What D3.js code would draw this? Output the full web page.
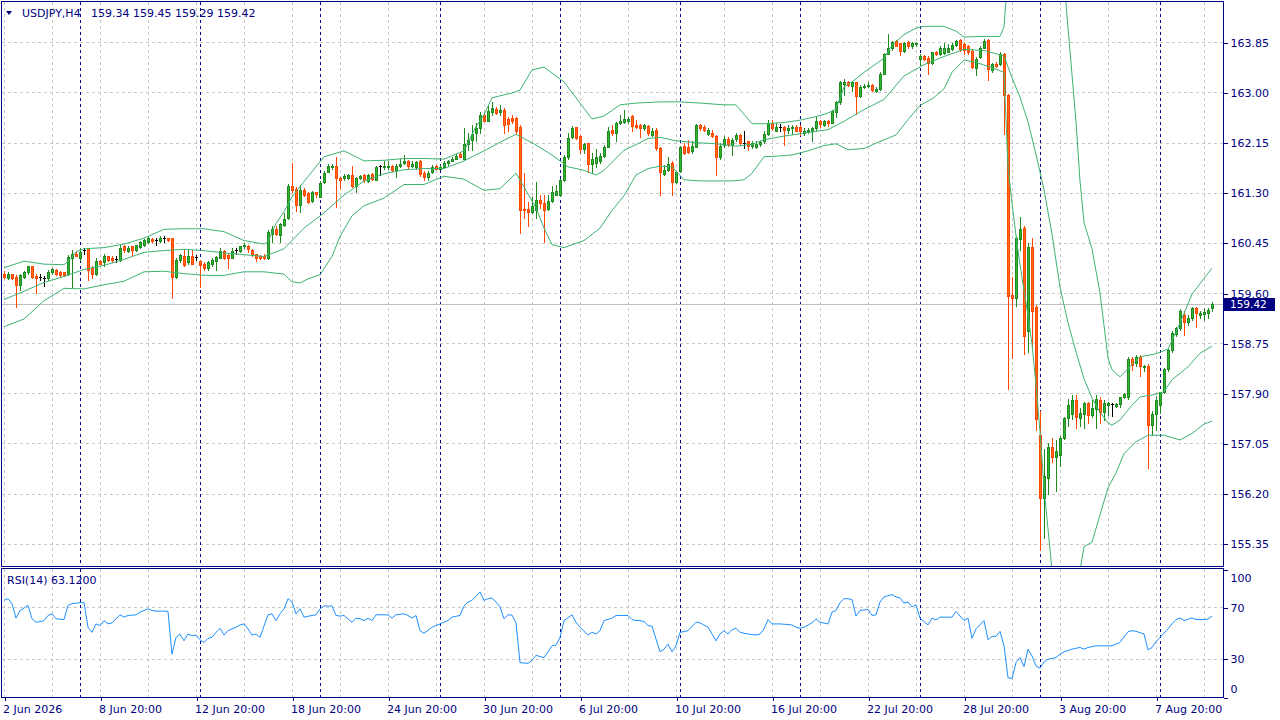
<!DOCTYPE html>
<html lang="en">
<head>
<meta charset="utf-8">
<title>USDJPY,H4</title>
<script src="https://cdn.jsdelivr.net/npm/d3@7"></script>
<style>
  html, body { margin: 0; padding: 0; background: #ffffff; overflow: hidden; }
  #chart svg { display: block; }
</style>
</head>
<body>
<div id="chart"></div>
<script>

var symbol = 'USDJPY,H4';
var rsiName = 'RSI(14)';

// H4 bars, oldest first, first bar is Tue 2 Jun 2026 20:00
var opens = [
  159.93,159.86,159.92,159.87,159.74,159.88,159.96,160.05,159.89,159.87,
  159.85,159.85,159.96,159.99,159.96,159.95,159.92,160.19,160.27,160.19,
  160.33,160.35,160.02,159.92,160.14,160.13,160.22,160.20,160.18,160.16,
  160.39,160.31,160.39,160.33,160.38,160.41,160.47,160.51,160.50,160.48,
  160.53,160.53,160.53,159.88,160.16,160.23,160.13,160.23,160.21,160.14,
  160.09,160.03,160.09,160.14,160.20,160.31,160.24,160.20,160.33,160.31,
  160.39,160.40,160.33,160.26,160.22,160.23,160.19,160.60,160.69,160.58,
  160.75,160.87,161.42,161.36,161.09,161.35,161.30,161.16,161.31,161.23,
  161.48,161.66,161.73,161.76,161.55,161.55,161.55,161.60,161.42,161.55,
  161.60,161.50,161.61,161.52,161.75,161.74,161.73,161.76,161.69,161.76,
  161.80,161.84,161.76,161.73,161.84,161.63,161.57,161.65,161.75,161.71,
  161.74,161.80,161.84,161.88,161.95,161.88,162.12,162.19,162.32,162.39,
  162.62,162.52,162.67,162.72,162.67,162.70,162.55,162.56,162.56,162.42,
  161.02,161.02,160.97,161.01,161.18,161.12,161.02,161.16,161.27,161.26,
  161.52,161.91,162.24,162.41,162.26,162.04,162.14,161.78,161.81,161.83,
  161.92,162.08,162.36,162.32,162.49,162.50,162.52,162.60,162.45,162.44,
  162.39,162.43,162.28,162.36,162.05,161.62,161.69,161.81,161.49,161.67,
  162.09,162.07,162.00,162.08,162.45,162.42,162.30,162.31,162.26,161.90,
  162.11,162.21,162.11,162.21,162.28,162.14,162.17,162.09,162.08,162.13,
  162.17,162.30,162.49,162.35,162.42,162.41,162.37,162.39,162.42,162.41,
  162.31,162.34,162.35,162.39,162.52,162.45,162.52,162.49,162.67,162.84,
  163.14,163.18,163.11,163.17,162.94,163.10,163.11,163.13,163.03,163.06,
  163.32,163.66,163.75,163.87,163.83,163.71,163.85,163.78,163.82,163.56,
  163.62,163.58,163.50,163.68,163.65,163.67,163.69,163.73,163.80,163.89,
  163.82,163.79,163.71,163.41,163.60,163.76,163.89,163.38,163.49,163.49,
  163.65,162.95,159.57,159.52,160.52,160.70,158.95,160.38,159.36,157.20,
  156.12,156.47,156.99,156.82,156.86,157.15,157.48,157.55,157.79,157.48,
  157.55,157.73,157.53,157.63,157.79,157.59,157.70,157.72,157.69,157.72,
  157.83,157.84,158.49,158.42,158.51,158.34,158.36,157.36,157.55,157.70,
  157.93,158.31,158.63,158.91,159.00,159.23,159.11,159.17,159.34,159.23,
  159.24,159.27,159.34
];

var highs = [
  159.97,159.95,159.93,159.91,159.92,159.98,160.06,160.06,159.92,159.92,
  159.89,159.99,160.03,160.01,159.97,159.96,160.24,160.33,160.30,160.36,
  160.37,160.37,160.05,160.19,160.16,160.27,160.23,160.22,160.22,160.42,
  160.41,160.39,160.40,160.42,160.48,160.52,160.55,160.53,160.54,160.57,
  160.57,160.54,160.54,160.19,160.27,160.33,160.33,160.33,160.24,160.16,
  160.12,160.14,160.19,160.23,160.37,160.33,160.27,160.36,160.37,160.40,
  160.44,160.42,160.35,160.27,160.24,160.26,160.67,160.73,160.73,160.79,
  160.95,161.44,161.80,161.39,161.43,161.38,161.32,161.33,161.32,161.50,
  161.67,161.78,161.78,161.91,161.57,161.61,161.62,161.76,161.56,161.60,
  161.61,161.62,161.63,161.76,161.77,161.83,161.83,161.77,161.78,161.87,
  161.94,161.86,161.83,161.84,161.86,161.67,161.67,161.77,161.77,161.77,
  161.83,161.86,161.91,161.95,161.99,162.40,162.31,162.45,162.48,162.67,
  162.65,162.79,162.83,162.76,162.79,162.73,162.59,162.61,162.59,162.44,
  161.63,161.15,161.23,161.49,161.26,161.26,161.27,161.42,161.43,161.54,
  161.94,162.31,162.43,162.42,162.28,162.15,162.15,161.97,162.04,161.97,
  162.11,162.42,162.45,162.50,162.62,162.70,162.59,162.62,162.54,162.46,
  162.46,162.45,162.39,162.39,162.08,161.77,161.90,161.83,161.67,162.09,
  162.15,162.19,162.18,162.47,162.47,162.45,162.39,162.37,162.28,162.14,
  162.26,162.24,162.22,162.32,162.30,162.34,162.18,162.17,162.17,162.18,
  162.34,162.54,162.53,162.48,162.47,162.43,162.45,162.45,162.45,162.45,
  162.39,162.39,162.42,162.59,162.54,162.54,162.54,162.71,162.86,163.20,
  163.22,163.20,163.19,163.18,163.13,163.15,163.18,163.14,163.10,163.34,
  163.67,163.99,163.88,163.89,163.84,163.86,163.88,163.86,163.86,163.66,
  163.64,163.61,163.69,163.70,163.78,163.83,163.82,163.83,163.89,163.90,
  163.84,163.81,163.73,163.60,163.79,163.90,163.90,163.50,163.52,163.69,
  163.67,162.98,159.87,160.57,160.89,160.74,160.45,160.54,159.40,157.60,
  156.95,157.05,157.15,157.11,157.17,157.50,157.80,157.87,157.87,157.65,
  157.76,157.76,157.79,157.87,157.84,157.79,157.76,157.74,157.74,157.84,
  157.91,158.52,158.52,158.55,158.55,158.38,158.40,157.60,157.86,157.93,
  158.33,158.65,158.95,159.02,159.33,159.29,159.23,159.37,159.37,159.30,
  159.34,159.34,159.45
];

var lows = [
  159.85,159.84,159.84,159.37,159.65,159.85,159.93,159.85,159.60,159.82,
  159.72,159.82,159.93,159.91,159.89,159.89,159.91,159.71,160.22,160.16,
  160.27,159.82,159.85,159.91,160.09,160.05,160.14,160.13,160.13,160.14,
  160.30,160.30,160.22,160.31,160.36,160.40,160.44,160.47,160.41,160.47,
  160.47,160.48,159.51,159.86,160.13,160.05,160.10,160.09,160.16,159.71,
  159.99,159.99,160.06,159.99,160.19,160.18,160.02,160.19,160.27,160.30,
  160.36,160.30,160.23,160.14,160.18,160.17,160.18,160.47,160.58,160.46,
  160.73,160.86,161.32,160.99,160.97,161.25,161.12,161.15,161.23,161.22,
  161.46,161.65,161.71,161.06,161.38,161.52,161.53,161.40,161.32,161.53,
  161.48,161.49,161.52,161.51,161.60,161.71,161.71,161.67,161.56,161.74,
  161.78,161.70,161.74,161.71,161.59,161.52,161.52,161.63,161.70,161.70,
  161.73,161.77,161.83,161.87,161.92,161.87,162.03,162.03,162.17,162.31,
  162.51,162.51,162.62,162.63,162.62,162.31,162.34,162.48,162.31,160.61,
  160.87,160.73,160.95,160.87,161.04,160.47,161.01,161.15,161.26,161.25,
  161.50,161.88,162.22,162.21,161.98,161.98,161.66,161.64,161.74,161.80,
  161.90,162.07,162.28,162.17,162.47,162.48,162.49,162.34,162.39,162.24,
  162.37,162.28,162.26,162.02,161.26,161.60,161.67,161.26,161.47,161.66,
  161.96,161.97,161.98,162.07,162.36,162.35,162.28,162.24,161.60,161.88,
  162.08,162.09,161.94,162.17,162.11,162.05,162.02,162.05,162.05,162.09,
  162.15,162.28,162.37,162.34,162.34,162.11,162.31,162.30,162.34,162.28,
  162.28,162.31,162.18,162.37,162.42,162.43,162.43,162.48,162.59,162.80,
  162.96,163.11,163.03,162.64,162.93,163.08,163.10,163.03,163.00,163.04,
  163.31,163.65,163.72,163.78,163.63,163.69,163.76,163.76,163.79,163.47,
  163.55,163.32,163.49,163.64,163.64,163.66,163.68,163.72,163.79,163.71,
  163.66,163.65,163.41,163.30,163.58,163.75,163.21,163.35,163.43,163.46,
  162.29,157.98,158.50,159.38,160.33,158.56,158.60,158.70,157.28,155.24,
  155.45,156.20,156.73,156.25,156.67,157.12,157.34,157.46,157.31,157.34,
  157.31,157.39,157.50,157.31,157.39,157.45,157.53,157.52,157.67,157.67,
  157.82,157.80,158.30,158.36,158.19,158.28,156.63,157.19,157.28,157.56,
  157.90,158.28,158.60,158.87,158.98,158.89,159.06,159.14,159.03,159.17,
  159.14,159.17,159.29
];

var closes = [
  159.87,159.92,159.86,159.74,159.91,159.96,160.05,159.87,159.85,159.87,
  159.85,159.96,160.01,159.92,159.91,159.91,160.21,160.27,160.23,160.30,
  160.33,159.99,159.92,160.14,160.10,160.23,160.16,160.16,160.18,160.37,
  160.33,160.37,160.33,160.41,160.46,160.50,160.54,160.48,160.50,160.54,
  160.53,160.50,159.88,160.16,160.24,160.08,160.23,160.10,160.21,160.08,
  160.02,160.12,160.16,160.21,160.31,160.19,160.19,160.31,160.33,160.39,
  160.41,160.35,160.26,160.19,160.19,160.19,160.63,160.69,160.60,160.77,
  160.86,161.42,161.35,161.09,161.35,161.26,161.15,161.31,161.28,161.47,
  161.64,161.75,161.76,161.55,161.52,161.59,161.60,161.42,161.55,161.58,
  161.51,161.60,161.53,161.73,161.75,161.75,161.75,161.69,161.75,161.79,
  161.84,161.75,161.79,161.82,161.61,161.57,161.64,161.74,161.71,161.74,
  161.81,161.83,161.88,161.92,161.91,162.12,162.19,162.29,162.39,162.62,
  162.52,162.69,162.73,162.65,162.70,162.44,162.46,162.52,162.34,161.01,
  161.00,160.97,161.08,161.17,161.12,161.01,161.16,161.32,161.33,161.51,
  161.91,162.23,162.40,162.22,162.04,162.13,161.78,161.88,161.91,161.93,
  162.07,162.35,162.31,162.48,162.52,162.55,162.55,162.43,162.41,162.40,
  162.44,162.31,162.34,162.05,161.66,161.69,161.78,161.49,161.65,162.07,
  161.98,161.99,162.10,162.44,162.39,162.37,162.36,162.27,161.90,162.10,
  162.21,162.12,162.19,162.28,162.14,162.14,162.09,162.14,162.13,162.16,
  162.30,162.47,162.39,162.41,162.42,162.37,162.39,162.41,162.35,162.34,
  162.35,162.36,162.40,162.51,162.46,162.52,162.48,162.68,162.84,163.17,
  163.18,163.13,163.17,162.94,163.10,163.11,163.13,163.04,163.06,163.32,
  163.66,163.75,163.86,163.79,163.71,163.83,163.79,163.83,163.83,163.62,
  163.56,163.50,163.68,163.65,163.75,163.75,163.76,163.81,163.88,163.73,
  163.72,163.69,163.43,163.57,163.76,163.88,163.39,163.48,163.45,163.66,
  162.96,159.55,159.52,160.54,160.69,158.88,160.38,159.30,157.46,156.12,
  156.50,156.99,156.82,156.93,157.15,157.48,157.70,157.79,157.50,157.56,
  157.73,157.53,157.65,157.80,157.59,157.74,157.73,157.72,157.72,157.83,
  157.89,158.49,158.38,158.51,158.36,158.36,157.36,157.55,157.79,157.93,
  158.31,158.63,158.93,159.00,159.30,159.11,159.17,159.34,159.26,159.27,
  159.28,159.32,159.42
];

// Bollinger bands: [bar, price]
var bbUpper = [
  [0,160.03],[5,160.14],[10,160.09],[15,160.08],[17,160.20],[18,160.30],[20,160.35],[25,160.37],
  [30,160.43],[35,160.53],[40,160.68],[45,160.69],[50,160.69],[55,160.64],[60,160.49],[65,160.43],
  [66,160.47],[68,160.78],[70,160.98],[72,161.23],[75,161.49],[80,161.91],[85,162.01],[90,161.84],
  [95,161.85],[100,161.88],[105,161.88],[110,161.87],[115,162.01],[118,162.42],[120,162.62],[122,162.91],
  [127,162.99],[129,163.04],[132,163.38],[135,163.43],[140,163.18],[145,162.73],[147,162.55],[150,162.60],
  [154,162.79],[158,162.82],[164,162.84],[169,162.84],[174,162.82],[180,162.79],[183,162.79],[187,162.47],
  [190,162.47],[195,162.49],[199,162.53],[203,162.59],[206,162.65],[208,162.72],[210,163.09],[212,163.18],
  [215,163.34],[220,163.58],[222,163.80],[225,163.98],[228,164.09],[230,164.12],[235,164.12],[238,164.04],
  [240,163.94],[245,163.95],[249,163.95],[250,164.11],[251,165.00],[253,165.90],[256,166.50],[259,166.90],
  [262,166.60],[264,165.60],[265,164.90],[266,164.10],[267,163.30],[268,162.50],[269,161.50],[270,160.80],
  [272,160.35],[274,159.60],[276,158.50],[277,158.30],[279,158.18],[281,158.32],[284,158.52],[288,158.57],
  [291,158.65],[294,159.09],[297,159.58],[300,159.85],[302,160.02]
];

var bbMiddle = [
  [0,159.49],[5,159.63],[10,159.78],[15,159.88],[20,160.00],[25,160.07],[30,160.17],[35,160.29],
  [40,160.32],[45,160.34],[50,160.32],[55,160.28],[60,160.25],[65,160.22],[70,160.35],[75,160.70],
  [80,160.96],[85,161.26],[90,161.50],[95,161.62],[100,161.69],[105,161.71],[110,161.71],[115,161.84],
  [120,162.01],[125,162.19],[128,162.29],[133,162.11],[137,161.94],[141,161.74],[145,161.68],[148,161.60],
  [150,161.68],[155,162.02],[159,162.15],[161,162.22],[164,162.24],[168,162.18],[173,162.15],[178,162.13],
  [183,162.09],[187,162.12],[190,162.20],[195,162.26],[199,162.30],[203,162.34],[206,162.37],[210,162.51],
  [215,162.71],[220,162.88],[225,163.28],[230,163.47],[235,163.61],[240,163.73],[245,163.71],[250,163.62],
  [252,163.25],[254,162.92],[256,162.50],[258,161.95],[260,161.35],[262,160.60],[264,159.70],[265,159.40],
  [266,159.10],[268,158.60],[270,158.15],[272,157.82],[274,157.58],[276,157.40],[277,157.36],[279,157.45],
  [282,157.70],[284,157.84],[287,157.87],[290,157.93],[292,158.13],[296,158.35],[299,158.58],[302,158.70]
];

var bbLower = [
  [0,159.03],[5,159.16],[10,159.47],[15,159.68],[20,159.67],[25,159.74],[30,159.80],[35,159.96],
  [40,159.97],[45,159.93],[50,159.90],[55,159.90],[60,159.96],[65,159.96],[70,159.92],[72,159.79],
  [74,159.77],[76,159.84],[79,159.91],[82,160.22],[84,160.56],[87,160.91],[90,161.08],[95,161.21],
  [100,161.44],[105,161.44],[110,161.58],[115,161.53],[120,161.34],[124,161.37],[128,161.63],[130,161.40],
  [133,161.04],[135,160.70],[137,160.42],[140,160.37],[145,160.49],[149,160.70],[152,161.00],[155,161.25],
  [158,161.60],[161,161.71],[164,161.75],[167,161.74],[170,161.52],[174,161.50],[182,161.50],[185,161.52],
  [187,161.63],[190,161.91],[193,161.92],[197,161.94],[201,162.01],[205,162.10],[208,162.13],[211,162.03],
  [215,162.05],[219,162.17],[223,162.28],[226,162.54],[229,162.78],[232,162.89],[235,163.06],[237,163.34],
  [240,163.55],[243,163.51],[247,163.42],[250,163.34],[251,161.74],[252,161.12],[253,160.57],[254,160.08],
  [255,159.65],[256,159.22],[257,158.73],[258,158.05],[259,157.25],[260,156.30],[261,155.60],[262,154.90],
  [264,154.00],[266,153.70],[268,154.30],[269,154.90],[270,155.30],[272,155.38],[274,155.84],[276,156.30],
  [278,156.55],[280,156.88],[283,157.08],[286,157.19],[290,157.19],[294,157.11],[297,157.22],[300,157.38],
  [302,157.43]
];

// RSI(14): [bar, value]
var rsiValues = [
  [0,75.5],[1,76.8],[2,72.9],[3,61.6],[4,67.6],[5,69.5],[6,71.6],[7,61.1],[8,58.4],[9,58.9],
  [10,59.7],[11,63.7],[12,65.0],[13,61.1],[15,60.5],[16,71.6],[17,72.9],[19,73.7],[20,73.7],[21,54.5],
  [22,50.5],[23,57.1],[24,55.8],[25,59.7],[26,57.1],[27,57.9],[29,64.2],[30,62.4],[31,63.7],[33,64.2],
  [34,66.3],[36,68.9],[37,67.6],[38,67.1],[40,67.1],[41,66.8],[42,33.4],[43,46.6],[44,49.2],[45,43.9],
  [46,49.2],[47,47.9],[48,48.4],[49,44.7],[50,42.6],[51,45.8],[52,46.6],[53,50.5],[54,53.7],[55,48.4],
  [56,51.8],[58,54.5],[59,56.3],[60,57.1],[61,53.2],[62,48.4],[63,49.2],[64,46.6],[66,64.2],[67,65.0],
  [68,59.7],[69,65.0],[70,68.9],[71,76.8],[72,74.2],[73,65.0],[74,68.9],[75,62.4],[77,63.7],[78,64.2],
  [79,68.9],[80,71.1],[82,71.1],[83,63.7],[84,63.2],[85,63.7],[87,58.4],[88,61.6],[89,61.1],[90,59.7],
  [91,61.6],[92,59.7],[93,64.2],[95,64.2],[96,64.2],[97,61.6],[98,64.2],[100,65.0],[101,63.7],[102,61.6],
  [103,63.7],[104,51.8],[105,49.7],[107,54.5],[108,55.8],[109,57.1],[111,59.7],[112,62.4],[114,63.7],[115,71.1],
  [116,74.2],[117,75.5],[118,78.7],[119,82.1],[120,75.5],[121,76.8],[122,77.4],[123,74.2],[124,70.3],[125,61.1],
  [126,64.2],[127,64.0],[128,58.0],[129,26.8],[131,26.3],[132,28.7],[133,32.6],[134,31.6],[135,30.8],[137,40.0],
  [138,40.5],[139,46.6],[140,59.7],[142,64.2],[143,58.4],[144,54.5],[146,48.4],[147,50.5],[148,49.2],[149,51.8],
  [150,59.7],[152,61.6],[153,63.7],[156,63.7],[157,60.5],[158,59.7],[159,59.7],[160,58.9],[161,55.8],[162,55.3],
  [164,35.3],[165,37.4],[166,41.3],[167,35.3],[168,40.0],[169,50.5],[170,51.1],[171,51.8],[173,58.4],[174,57.9],
  [176,54.5],[178,43.9],[179,49.2],[180,51.8],[181,49.2],[182,52.6],[183,53.7],[184,50.5],[186,49.2],[188,48.4],
  [189,49.2],[190,53.2],[191,60.5],[192,57.1],[194,57.1],[197,56.3],[198,54.5],[199,53.7],[200,54.5],[202,57.9],
  [203,61.1],[204,58.4],[206,57.1],[207,66.3],[208,67.6],[209,73.7],[210,76.8],[211,76.8],[212,76.1],[213,63.2],
  [214,67.6],[216,68.4],[217,63.7],[218,64.2],[219,74.2],[220,78.2],[222,80.0],[223,78.2],[224,77.4],[225,73.4],
  [226,74.2],[227,70.3],[228,72.1],[229,61.6],[230,58.9],[231,56.3],[232,61.6],[233,60.3],[234,62.4],[237,62.4],
  [238,66.8],[240,59.7],[241,61.6],[242,45.8],[243,53.2],[245,59.7],[246,44.7],[247,47.4],[248,47.4],[249,51.3],
  [250,40.0],[251,15.0],[252,14.5],[253,26.8],[254,30.8],[255,23.7],[256,37.4],[257,32.1],[258,24.2],[259,22.5],
  [260,27.4],[261,29.5],[263,30.8],[264,33.4],[265,35.3],[267,37.4],[269,38.7],[270,37.4],[271,38.7],[273,40.0],
  [274,40.0],[277,40.0],[279,42.6],[281,51.1],[282,51.8],[283,51.3],[285,49.2],[286,36.8],[287,38.7],[288,43.2],
  [289,46.6],[291,53.2],[292,57.1],[293,60.5],[294,61.8],[295,59.7],[297,61.8],[298,60.5],[300,60.5],[301,61.0],
  [302,63.12]
];

var priceTicks = [155.35, 156.20, 157.05, 157.90, 158.75, 159.60, 160.45, 161.30, 162.15, 163.00, 163.85];
var rsiTicks = [0, 30, 70, 100];
var rsiLevels = [30, 70];
var timeTickBars = [0, 24, 48, 72, 96, 120, 144, 168, 192, 216, 240, 264, 288];
var timeTickLabels = ['2 Jun 2026', '8 Jun 20:00', '12 Jun 20:00', '18 Jun 20:00', '24 Jun 20:00',
  '30 Jun 20:00', '6 Jul 20:00', '10 Jul 20:00', '16 Jul 20:00', '22 Jul 20:00', '28 Jul 20:00',
  '3 Aug 20:00', '7 Aug 20:00'];
var weekStartBars = [19, 49, 79, 109, 139, 169, 199, 229, 259, 289];

var settings = {
  selector: '#chart',
  width: 1280,
  height: 720,
  left: 2,
  right: 1223,
  firstBar: 4,
  barStep: 4,
  gridBars: 12,
  main: { top: 2, bottom: 566, tickTop: 42.3, tickBottom: 543.8 },
  sub: { top: 569, bottom: 697 },
  font: '"DejaVu Sans", Verdana, sans-serif',
  fontSize: 11,
  colors: {
    frame: '#000080',
    text: '#000080',
    grid: '#c8c8c8',
    priceLine: '#c0c0c0',
    bullStroke: '#1f8a1f',
    bullFill: '#33b333',
    bearStroke: '#ff4500',
    bearFill: '#ff6a14',
    doji: '#000000',
    bands: '#3cb371',
    rsi: '#1e90ff'
  }
};

var ctrl = { chart: {} };

function translate(x, y) {
  return 'translate(' + x + ',' + y + ')';
}

function crisp(v) {
  return Math.round(v) + 0.5;
}

function init(s, c) {

  c.svg = d3.select(s.selector).append('svg')
    .attr('width', s.width)
    .attr('height', s.height)
    .attr('font-family', s.font)
    .attr('font-size', s.fontSize);

  c.svg.append('rect')
    .attr('width', s.width)
    .attr('height', s.height)
    .attr('fill', '#ffffff');

  defineScales(s);
  defineClips(s, c);
  grid(s, c);
  candles(s, c);
  bands(s, c);
  rsi(s, c);
  frames(s, c);
  axis(s, c);
  labels(s, c);

}

function defineScales(s) {

  s.scales = {};
  s.scales.x = d3.scaleLinear()
    .domain([0, closes.length - 1])
    .range([s.firstBar, s.firstBar + s.barStep * (closes.length - 1)]);
  s.scales.price = d3.scaleLinear()
    .domain([priceTicks[0], priceTicks[priceTicks.length - 1]])
    .range([s.main.tickBottom, s.main.tickTop]);
  s.scales.rsi = d3.scaleLinear()
    .domain([0, 100])
    .range([s.sub.bottom, s.sub.top]);

  return s;

}

function defineClips(s, c) {

  var defs = c.svg.append('defs');

  [['clip-main', s.main], ['clip-sub', s.sub]].forEach(function(p) {
    defs.append('clipPath').attr('id', p[0])
      .append('rect')
      .attr('x', s.left)
      .attr('y', p[1].top)
      .attr('width', s.right - s.left)
      .attr('height', p[1].bottom - p[1].top);
  });

}

function grid(s, c) {

  var x = s.scales.x;
  var bars = d3.range(0, closes.length, s.gridBars);

  [s.main, s.sub].forEach(function(panel) {

    var g = c.svg.append('g')
      .attr('class', 'grid')
      .attr('shape-rendering', 'crispEdges');

    g.selectAll('line.v')
      .data(bars)
      .enter().append('line')
      .attr('class', 'v')
      .attr('x1', function(d) { return crisp(x(d)); })
      .attr('x2', function(d) { return crisp(x(d)); })
      .attr('y1', panel.top)
      .attr('y2', panel.bottom)
      .attr('stroke', s.colors.grid)
      .attr('stroke-dasharray', '3,3');

    var levels = panel === s.main ? priceTicks : rsiLevels;
    var y = panel === s.main ? s.scales.price : s.scales.rsi;

    g.selectAll('line.h')
      .data(levels)
      .enter().append('line')
      .attr('class', 'h')
      .attr('x1', s.left)
      .attr('x2', s.right)
      .attr('y1', function(d) { return crisp(y(d)); })
      .attr('y2', function(d) { return crisp(y(d)); })
      .attr('stroke', s.colors.grid)
      .attr('stroke-dasharray', '3,3');

    // weekly period separators
    g.selectAll('line.sep')
      .data(weekStartBars)
      .enter().append('line')
      .attr('class', 'sep')
      .attr('x1', function(d) { return crisp(x(d)); })
      .attr('x2', function(d) { return crisp(x(d)); })
      .attr('y1', panel.top)
      .attr('y2', panel.bottom)
      .attr('stroke', s.colors.frame)
      .attr('stroke-dasharray', '3,3');

  });

  // last price line
  var last = closes[closes.length - 1];
  c.svg.append('line')
    .attr('x1', s.left)
    .attr('x2', s.right)
    .attr('y1', crisp(s.scales.price(last)))
    .attr('y2', crisp(s.scales.price(last)))
    .attr('stroke', s.colors.priceLine)
    .attr('shape-rendering', 'crispEdges');

}

function candles(s, c) {

  var x = s.scales.x;
  var y = s.scales.price;
  var col = s.colors;

  function kind(i) {
    if (opens[i] === closes[i]) return 'doji';
    return closes[i] > opens[i] ? 'bull' : 'bear';
  }

  function stroke(i) {
    var k = kind(i);
    return k === 'doji' ? col.doji : (k === 'bull' ? col.bullStroke : col.bearStroke);
  }

  var g = c.svg.append('g')
    .attr('clip-path', 'url(#clip-main)')
    .attr('shape-rendering', 'crispEdges');

  var bars = g.selectAll('g.bar')
    .data(d3.range(closes.length))
    .enter().append('g')
    .attr('class', 'bar');

  bars.append('line')
    .attr('x1', function(i) { return x(i) + 0.5; })
    .attr('x2', function(i) { return x(i) + 0.5; })
    .attr('y1', function(i) { return Math.round(y(Math.max(highs[i], opens[i], closes[i]))); })
    .attr('y2', function(i) { return Math.round(y(Math.min(lows[i], opens[i], closes[i]))) + 1; })
    .attr('stroke', stroke);

  bars.filter(function(i) { return kind(i) !== 'doji'; })
    .append('rect')
    .attr('x', function(i) { return x(i) - 0.5; })
    .attr('y', function(i) { return crisp(y(Math.max(opens[i], closes[i]))); })
    .attr('width', 2)
    .attr('height', function(i) {
      var top = Math.round(y(Math.max(opens[i], closes[i])));
      var bottom = Math.round(y(Math.min(opens[i], closes[i])));
      return Math.max(0, bottom - top);
    })
    .attr('fill', function(i) { return kind(i) === 'bull' ? col.bullFill : col.bearFill; })
    .attr('stroke', stroke);

  bars.filter(function(i) { return kind(i) === 'doji'; })
    .append('line')
    .attr('x1', function(i) { return x(i) - 1; })
    .attr('x2', function(i) { return x(i) + 2; })
    .attr('y1', function(i) { return crisp(y(opens[i])); })
    .attr('y2', function(i) { return crisp(y(opens[i])); })
    .attr('stroke', col.doji);

}

function bands(s, c) {

  var line = d3.line()
    .x(function(d) { return s.scales.x(d[0]); })
    .y(function(d) { return s.scales.price(d[1]); });

  var g = c.svg.append('g').attr('clip-path', 'url(#clip-main)');

  g.selectAll('path')
    .data([bbUpper, bbMiddle, bbLower])
    .enter().append('path')
    .attr('d', line)
    .attr('fill', 'none')
    .attr('stroke', s.colors.bands)
    .attr('stroke-width', 1);

}

function rsi(s, c) {

  var line = d3.line()
    .x(function(d) { return s.scales.x(d[0]); })
    .y(function(d) { return s.scales.rsi(d[1]); });

  c.svg.append('g').attr('clip-path', 'url(#clip-sub)')
    .append('path')
    .datum(rsiValues)
    .attr('d', line)
    .attr('fill', 'none')
    .attr('stroke', s.colors.rsi)
    .attr('stroke-width', 1);

}

function frames(s, c) {

  [s.main, s.sub].forEach(function(panel) {
    c.svg.append('rect')
      .attr('x', s.left - 0.5)
      .attr('y', panel.top - 0.5)
      .attr('width', s.right - s.left + 1)
      .attr('height', panel.bottom - panel.top + 1)
      .attr('fill', 'none')
      .attr('stroke', s.colors.frame)
      .attr('shape-rendering', 'crispEdges');
  });

}

function styleAxis(g, s) {
  g.attr('font-family', s.font)
    .attr('font-size', s.fontSize)
    .attr('color', s.colors.text)
    .attr('shape-rendering', 'crispEdges');
  g.select('.domain').remove();
}

function axis(s, c) {

  // price scale
  c.svg.append('g')
    .attr('transform', translate(s.right + 0.5, 0.5))
    .call(d3.axisRight(s.scales.price)
      .tickValues(priceTicks)
      .tickSize(4)
      .tickPadding(3)
      .tickFormat(d3.format('.2f')))
    .call(styleAxis, s);

  // rsi scale, end labels kept inside the window
  c.svg.append('g')
    .attr('transform', translate(s.right + 0.5, 0.5))
    .call(d3.axisRight(s.scales.rsi)
      .tickValues(rsiTicks)
      .tickSize(4)
      .tickPadding(3))
    .call(styleAxis, s)
    .selectAll('text')
    .attr('dy', function(d) {
      if (d === 100) return '1.05em';
      if (d === 0) return '-0.45em';
      return '0.32em';
    });

  // time scale
  c.svg.append('g')
    .attr('transform', translate(0.5, s.sub.bottom + 0.5))
    .call(d3.axisBottom(s.scales.x)
      .tickValues(timeTickBars)
      .tickSize(3)
      .tickPadding(5)
      .tickFormat(function(d, k) { return timeTickLabels[k]; }))
    .call(styleAxis, s)
    .selectAll('text')
    .attr('text-anchor', 'start')
    .attr('x', -2);

  // last price marker
  var last = closes[closes.length - 1];
  var yl = s.scales.price(last);
  var tag = c.svg.append('g').attr('transform', translate(s.right + 1, Math.round(yl)));
  tag.append('rect')
    .attr('x', 0)
    .attr('y', -6)
    .attr('width', 51)
    .attr('height', 13)
    .attr('fill', s.colors.frame);
  tag.append('text')
    .attr('x', 6)
    .attr('y', 0.5)
    .attr('dy', '0.34em')
    .attr('font-size', 10.5)
    .attr('fill', '#ffffff')
    .text(d3.format('.2f')(last));

}

function labels(s, c) {

  var n = closes.length - 1;

  c.svg.append('path')
    .attr('d', 'M6,11L12,11L9,15Z')
    .attr('fill', s.colors.text);

  c.svg.append('text')
    .attr('x', 22)
    .attr('y', 17)
    .attr('fill', s.colors.text)
    .text(symbol);

  c.svg.append('text')
    .attr('x', 91)
    .attr('y', 17)
    .attr('fill', s.colors.text)
    .text([opens[n], highs[n], lows[n], closes[n]].map(d3.format('.2f')).join(' '));

  c.svg.append('text')
    .attr('x', 7)
    .attr('y', 584)
    .attr('fill', s.colors.text)
    .text(rsiName + ' ' + d3.format('.4f')(rsiValues[rsiValues.length - 1][1]));

}

init(settings, ctrl.chart);

</script>
</body>
</html>
